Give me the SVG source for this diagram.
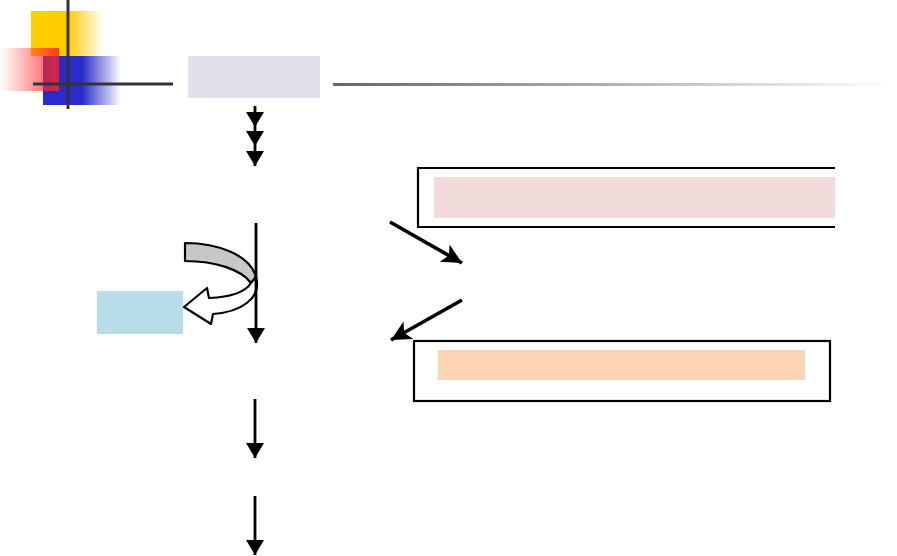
<svg xmlns="http://www.w3.org/2000/svg" width="897" height="556" viewBox="0 0 897 556">
<style>
.conn{stroke:#000;stroke-width:2.8;fill:none}
.diag{stroke:#000;stroke-width:3.6;fill:none}
.box{fill:#fff;stroke:#000;stroke-width:2.2}
.rule{stroke:#333;stroke-width:3}
</style>
<defs>
<marker id="ah" markerUnits="userSpaceOnUse" markerWidth="18" markerHeight="20" viewBox="0 0 18 20" refX="15" refY="10" orient="auto">
<path d="M0,1 L15,10 L0,19 Z" fill="#000"/>
</marker>
<marker id="ahd" markerUnits="userSpaceOnUse" markerWidth="24" markerHeight="24" viewBox="0 0 24 24" refX="20" refY="12" orient="auto">
<path d="M0,2 L20,12 L0,22 L5,12 Z" fill="#000"/>
</marker>
<linearGradient id="gY" x1="0" y1="0" x2="1" y2="0">
<stop offset="0" stop-color="#FFCC00"/><stop offset="0.5" stop-color="#FFCC00"/><stop offset="1" stop-color="#FFCC00" stop-opacity="0"/>
</linearGradient>
<linearGradient id="gR" x1="0" y1="0" x2="1" y2="0">
<stop offset="0" stop-color="#FF3333" stop-opacity="0"/><stop offset="1" stop-color="#FF2222"/>
</linearGradient>
<linearGradient id="gB" x1="0" y1="0" x2="1" y2="0">
<stop offset="0" stop-color="#2B2BCC"/><stop offset="0.5" stop-color="#2B2BCC"/><stop offset="1" stop-color="#2B2BCC" stop-opacity="0"/>
</linearGradient>
<linearGradient id="gL" x1="0" y1="0" x2="1" y2="0">
<stop offset="0" stop-color="#666"/><stop offset="1" stop-color="#666" stop-opacity="0"/>
</linearGradient>
</defs>

<g id="logo">
<rect x="31" y="11" width="73" height="45" fill="url(#gY)"/>
<rect x="43" y="56" width="78" height="49" fill="url(#gB)"/>
<rect x="0" y="48" width="59" height="43" fill="url(#gR)" opacity="0.85"/>
<line class="rule" x1="68" y1="0" x2="68" y2="109"/>
<line class="rule" x1="33" y1="84" x2="173" y2="84"/>
</g>

<g id="title">
<rect x="188" y="56" width="132" height="42" fill="#E3DFEC"/>
<rect x="333" y="83" width="560" height="3" fill="url(#gL)"/>
</g>

<g id="box-top">
<path d="M835,168 L418,168 L418,227 L835,227" class="box"/>
<rect x="434" y="177" width="401" height="41" fill="#F2DCDB"/>
</g>

<g id="box-bottom">
<rect x="414" y="341" width="416" height="60" class="box"/>
<rect x="438" y="350" width="367" height="30" fill="#FBD4B4"/>
</g>

<g id="side-box">
<rect x="97" y="291" width="86" height="43" fill="#B7DDE8"/>
</g>

<g id="curved-arrow">
<path d="M185,243 C218,243 250,255 256,277 L251,283 C242,270 216,261 185,261 Z" fill="#C8C8C8" stroke="#000" stroke-width="2.2" stroke-linejoin="round"/>
<path d="M256,277 C262,299 240,312 213,314 L211,324 L184,307 L207,288 L209,298 C232,297 246,291 251,283 Z" fill="#fff" stroke="#000" stroke-width="2.2" stroke-linejoin="round"/>
</g>

<g id="connectors">
<polyline class="conn" points="255,106 255,127 255,146 255,166" marker-mid="url(#ah)" marker-end="url(#ah)"/>
<line class="conn" x1="256" y1="223" x2="256" y2="343" marker-end="url(#ah)"/>
<line class="conn" x1="255" y1="399" x2="255" y2="458" marker-end="url(#ah)"/>
<line class="conn" x1="255" y1="496" x2="255" y2="555" marker-end="url(#ah)"/>
<line class="diag" x1="390" y1="222" x2="462" y2="263" marker-end="url(#ahd)"/>
<line class="diag" x1="462" y1="300" x2="391" y2="340" marker-end="url(#ahd)"/>
</g>
</svg>
